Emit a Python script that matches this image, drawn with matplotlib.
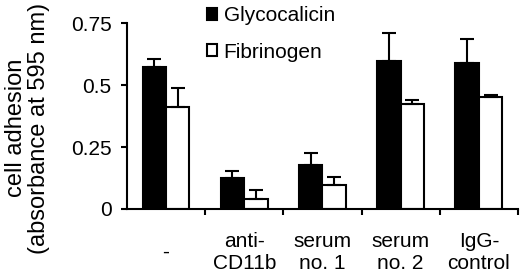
import matplotlib
matplotlib.use("Agg")
import matplotlib.pyplot as plt
import numpy as np

plt.rcParams['font.family'] = ['Liberation Sans', 'DejaVu Sans']

categories = ["-", "anti-\nCD11b", "serum\nno. 1", "serum\nno. 2", "IgG-\ncontrol"]
glyco = [0.573, 0.125, 0.178, 0.597, 0.589]
glyco_err = [0.032, 0.028, 0.047, 0.113, 0.096]
fibr = [0.411, 0.040, 0.098, 0.423, 0.452]
fibr_err = [0.077, 0.036, 0.031, 0.017, 0.008]

fig = plt.figure(figsize=(5.2, 2.75), dpi=100)
ax = fig.add_axes([0.244, 0.24, 0.752, 0.676])

x = np.arange(len(categories))
w = 0.3
ekw = dict(elinewidth=1.5, capthick=1.5, capsize=5, ecolor="black")
ax.bar(x - w / 2, glyco, w, color="black", edgecolor="black", linewidth=1.5,
       yerr=[[0] * 5, glyco_err], error_kw=ekw, label="Glycocalicin")
ax.bar(x + w / 2, fibr, w, color="white", edgecolor="black", linewidth=1.5,
       yerr=[[0] * 5, fibr_err], error_kw=ekw, label="Fibrinogen")

ax.set_xlim(-0.5, 4.5)
ax.set_ylim(0, 0.75)
ax.set_yticks([0, 0.25, 0.5, 0.75])
ax.set_yticklabels(["0", "0.25", "0.5", "0.75"], fontsize=15)
ax.set_xticks(np.arange(0.5, 5, 1))
ax.set_xticklabels([])
ax.set_xticks(x, minor=True)
ax.set_xticklabels(categories, minor=True, fontsize=15, linespacing=1.2,
                   va="center")
ax.tick_params(axis="x", which="minor", length=0, pad=31)
ax.tick_params(axis="x", which="major", length=4, width=1.5, direction="out")
ax.tick_params(axis="y", length=4, width=1.5, pad=7)
for s in ["top", "right"]:
    ax.spines[s].set_visible(False)
for s in ["left", "bottom"]:
    ax.spines[s].set_linewidth(1.5)

ax.set_ylabel("cell adhesion\n(absorbance at 595 nm)", fontsize=17,
              linespacing=1.05)
ax.yaxis.set_label_coords(-0.197, 0.435)

fig.legend(loc="upper left", bbox_to_anchor=(0.398, 0.978), frameon=False,
           fontsize=15, handlelength=0.5, handleheight=0.5, handletextpad=0.3,
           labelspacing=0.85, borderaxespad=0, borderpad=0)

fig.savefig("out.png", dpi=100)
